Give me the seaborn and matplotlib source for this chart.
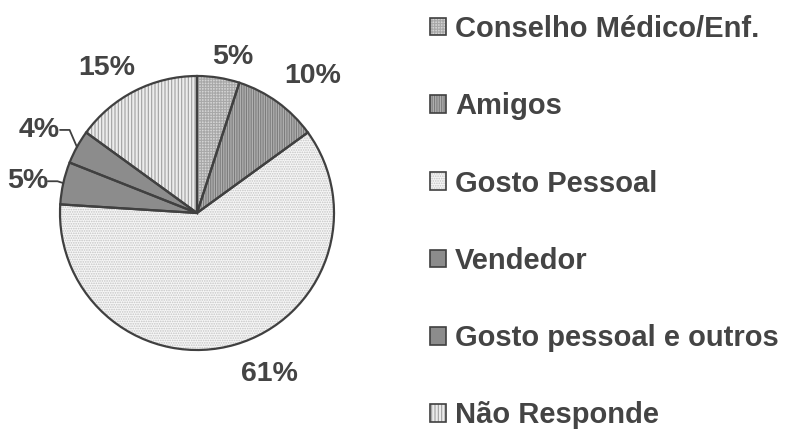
import numpy as np
import matplotlib
matplotlib.use("Agg")
import matplotlib.pyplot as plt
import matplotlib.patches as mpatches
import seaborn as sns

#================================
# DATA
#================================
categories = ["Conselho Médico/Enf.", "Amigos", "Gosto Pessoal",
              "Vendedor", "Gosto pessoal e outros", "Não Responde"]
shares = [5, 10, 61, 5, 4, 15]
pct_labels = ["5%", "10%", "61%", "5%", "4%", "15%"]

#================================
# STYLE
#================================
sns.set_style("white")
plt.rcParams["font.family"] = ["Liberation Sans", "DejaVu Sans"]
plt.rcParams["hatch.linewidth"] = 0.8

fills = ["#d4d4d4", "#b0b0b0", "#f6f6f6", "#8c8c8c", "#8c8c8c", "#ececec"]
hatch_cols = ["#a8a8a8", "#7c7c7c", "#c4c4c4", "#8c8c8c", "#8c8c8c", "#a0a0a0"]
hatches = ["+" * 6, "|" * 7, "." * 7, None, None, "|" * 5]
label_r = [1.17, 1.31, 1.29, 1.26, 1.30, 1.25]
label_da = [-4, -4, 8, 2, 1, 5]
txt_col = "#444444"
edge_col = "#404040"
fsize = 20.5

fig = plt.figure(figsize=(7.87, 4.33), dpi=100)
lim = 1.2
rad_px = 137
w = 2 * lim * rad_px
ax = fig.add_axes([(197 - w / 2) / 787, (220 - w / 2) / 433, w / 787, w / 433])

#================================
# PIE (hatch layer, then outlines)
#================================
wedges, _ = ax.pie(shares, startangle=90, counterclock=False, colors=fills,
                   wedgeprops=dict(linewidth=0))
for wdg, h, hc in zip(wedges, hatches, hatch_cols):
    if h:
        wdg.set_hatch(h)
        wdg.set_edgecolor(hc)
outl, _ = ax.pie(shares, startangle=90, counterclock=False,
                 wedgeprops=dict(fill=False, linewidth=1.6, edgecolor=edge_col))

#================================
# PERCENT LABELS
#================================
for i, wdg in enumerate(wedges):
    mid = np.deg2rad((wdg.theta1 + wdg.theta2) / 2 + label_da[i])
    x, y = label_r[i] * np.cos(mid), label_r[i] * np.sin(mid)
    ax.text(x, y, pct_labels[i], ha="center", va="center", fontsize=fsize,
            fontweight="bold", color=txt_col)
    if i in (3, 4):
        emid = np.deg2rad((wdg.theta1 + wdg.theta2) / 2)
        ex, ey = np.cos(emid), np.sin(emid)
        tx = x + 0.15
        ax.plot([tx, tx + 0.07, ex], [y, y, ey], color=edge_col, lw=1.3,
                clip_on=False)

ax.set_xlim(-lim, lim)
ax.set_ylim(-lim, lim)
ax.set_aspect("equal")
ax.axis("off")

#================================
# LEGEND
#================================
handles = []
for f, h, hc in zip(fills, hatches, hatch_cols):
    inner = mpatches.Patch(facecolor=f, edgecolor=hc, hatch=h, linewidth=0)
    frame = mpatches.Patch(facecolor="none", edgecolor=edge_col, linewidth=1.2)
    handles.append((inner, frame))
leg = fig.legend(handles, categories, loc="upper left",
                 bbox_to_anchor=(430 / 787, 1 - 15 / 433), frameon=False,
                 prop=dict(family="Liberation Sans", weight="bold", size=21),
                 handlelength=0.55, handleheight=0.55, handletextpad=0.3,
                 labelspacing=1.69, borderaxespad=0, borderpad=0)
for t in leg.get_texts():
    t.set_color(txt_col)

fig.savefig("out.png", dpi=100)
